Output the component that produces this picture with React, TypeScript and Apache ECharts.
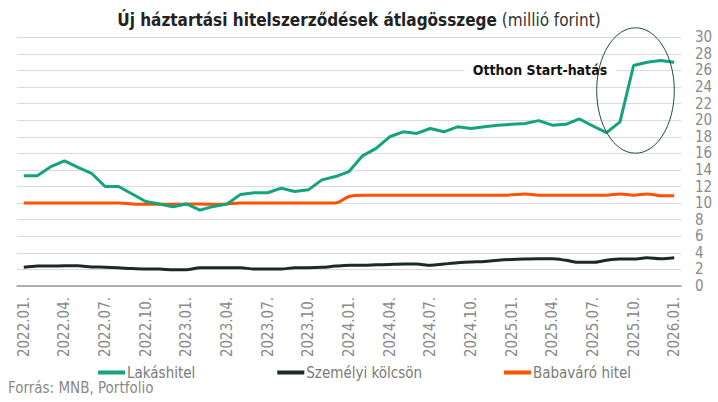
import React, { useEffect, useRef } from "react";
import * as echarts from "echarts";

const months: string[] = [];
for (let y = 2022; y <= 2026; y++) {
  for (let m = 1; m <= 12; m++) {
    if (y === 2026 && m > 1) break;
    months.push(`${y}.${m < 10 ? "0" + m : m}.`);
  }
}

const lakashitel = [
  13.3, 13.3, 14.4, 15.1, 14.3, 13.6, 12.0, 12.0, 11.1, 10.2, 9.9, 9.55,
  9.9, 9.15, 9.6, 9.9, 11.05, 11.25, 11.25, 11.8, 11.4, 11.6, 12.8, 13.2,
  13.8, 15.7, 16.6, 18.0, 18.6, 18.4, 19.0, 18.6, 19.2, 19.0, 19.2, 19.4,
  19.5, 19.6, 19.95, 19.4, 19.5, 20.15, 19.3, 18.5, 19.8, 26.6, 27.0, 27.2,
  27.0,
];

const szemelyi = [
  2.25, 2.4, 2.42, 2.43, 2.43, 2.3, 2.27, 2.2, 2.1, 2.05, 2.05, 1.95,
  1.95, 2.2, 2.2, 2.2, 2.2, 2.05, 2.05, 2.05, 2.2, 2.2, 2.25, 2.4,
  2.5, 2.5, 2.55, 2.6, 2.65, 2.65, 2.5, 2.65, 2.8, 2.9, 2.95, 3.1,
  3.2, 3.25, 3.28, 3.28, 3.1, 2.85, 2.85, 3.1, 3.25, 3.25, 3.4, 3.28,
  3.4,
];

const babavaro = [
  10.0, 10.0, 10.0, 10.0, 10.0, 10.0, 10.0, 10.0, 9.9, 9.85, 9.85, 9.85,
  9.9, 9.9, 9.85, 9.9, 10.0, 10.0, 10.0, 10.0, 10.0, 10.0, 10.0, 10.0,
  10.8, 10.95, 10.95, 10.95, 10.95, 10.95, 10.95, 10.95, 10.95, 10.95, 10.95, 10.95,
  11.0, 11.1, 10.95, 10.95, 10.95, 10.95, 10.95, 10.95, 11.1, 10.95, 11.1, 10.9,
  10.9,
];

const seriesNames = ["Lakáshitel", "Személyi kölcsön", "Babaváró hitel"];
const colors = ["#13a37e", "#1b2a24", "#ff5200"];

const FONT = "'Liberation Sans Narrow', 'DejaVu Sans Condensed', Roboto, sans-serif";

export default function App() {
  const ref = useRef<HTMLDivElement>(null);
  useEffect(() => {
    document.body.style.margin = "0";
    if (!ref.current) return;
    const chart = echarts.init(ref.current, undefined, { renderer: "svg" });
    chart.setOption({
      animation: false,
      textStyle: { fontFamily: FONT },
      title: {
        left: "center",
        top: 6,
        text: "{b|Új háztartási hitelszerződések átlagösszege}{n| (millió forint)}",
        textStyle: {
          fontWeight: "normal",
          rich: {
            b: { fontFamily: FONT, fontSize: 17, fontWeight: "bold", color: "#222" },
            n: { fontFamily: FONT, fontSize: 17, fontWeight: "normal", color: "#333" },
          },
        },
      },
      grid: { left: 17, right: 37, top: 37.3, bottom: 116, containLabel: false },
      legend: {
        left: 93,
        top: 360,
        itemGap: 82,
        itemWidth: 27,
        itemHeight: 4,
        icon: "rect",
        textStyle: { color: "#7a7a7a", fontSize: 15, fontFamily: FONT, padding: [0, 0, 0, -3] },
        data: seriesNames,
      },
      xAxis: {
        type: "category",
        data: months,
        boundaryGap: true,
        axisLine: { lineStyle: { color: "#9a9a9a", width: 1.5 } },
        axisTick: { show: false },
        axisLabel: {
          interval: 2,
          rotate: 90,
          color: "#8a8a8a",
          fontSize: 15,
          fontFamily: FONT,
          margin: 11,
        },
        splitLine: { show: false },
      },
      yAxis: {
        type: "value",
        position: "right",
        min: 0,
        max: 30,
        interval: 2,
        axisLine: { show: false },
        axisTick: { show: false },
        axisLabel: { color: "#8a8a8a", fontSize: 15, fontFamily: FONT, margin: 14 },
        splitLine: { lineStyle: { color: "#d9d9d9", width: 1.2 } },
      },
      series: [
        {
          name: seriesNames[0],
          type: "line",
          data: lakashitel,
          symbol: "none",
          lineStyle: { color: colors[0], width: 3 },
          itemStyle: { color: colors[0] },
          z: 3,
        },
        {
          name: seriesNames[1],
          type: "line",
          data: szemelyi,
          symbol: "none",
          smooth: 0.3,
          lineStyle: { color: colors[1], width: 3 },
          itemStyle: { color: colors[1] },
          z: 2,
        },
        {
          name: seriesNames[2],
          type: "line",
          data: babavaro,
          symbol: "none",
          smooth: 0.3,
          lineStyle: { color: colors[2], width: 3 },
          itemStyle: { color: colors[2] },
          z: 2,
        },
      ],
      graphic: [
        {
          type: "text",
          z: 10,
          style: {
            text: "Otthon Start-hatás",
            x: 540,
            y: 70,
            align: "center",
            verticalAlign: "middle",
            font: `bold 14px ${FONT}`,
            fill: "#111",
            backgroundColor: "#ffffff",
            padding: [4, 9],
          },
        },
        {
          type: "ellipse",
          z: 10,
          shape: { cx: 635.5, cy: 90.5, rx: 38.8, ry: 62.7 },
          style: { fill: "none", stroke: "#1f4d3c", lineWidth: 1 },
        },
        {
          type: "text",
          z: 10,
          style: {
            text: "Forrás: MNB, Portfolio",
            x: 8,
            y: 380,
            font: `15px ${FONT}`,
            fill: "#888",
          },
        },
      ],
    });
    return () => chart.dispose();
  }, []);
  return <div ref={ref} style={{ width: 718, height: 402 }} />;
}
